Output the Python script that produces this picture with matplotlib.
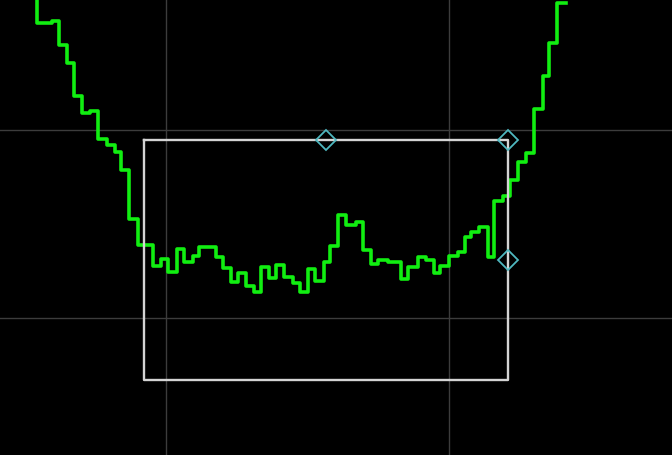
import matplotlib
matplotlib.use("Agg")
import matplotlib.pyplot as plt

# step trace, screen-like units (x right, y down), each level holds until next x
trace_x = [36, 36, 51, 58, 66, 73, 81, 89, 97, 106, 114, 120, 128, 137, 152,
           160, 167, 176, 183, 192, 198, 215, 222, 230, 237, 245, 253, 260,
           268, 275, 283, 292, 299, 307, 314, 323, 329, 337, 345, 355, 362,
           370, 377, 387, 400, 407, 417, 425, 433, 439, 448, 457, 464, 470,
           478, 487, 493, 502, 509, 517, 525, 533, 542, 548, 556, 565]
trace_y = [-5, 23, 21, 45, 63, 96, 113, 111, 139, 145, 152, 170, 219, 245, 266,
           259, 272, 249, 262, 256, 247, 257, 268, 282, 273, 286, 292, 267,
           278, 265, 277, 283, 292, 269, 281, 262, 246, 215, 225, 222, 250,
           264, 260, 262, 279, 267, 257, 260, 273, 266, 256, 252, 237, 232,
           227, 257, 201, 196, 180, 162, 153, 109, 76, 43, 3, 3]

# selection box and its handles
box_x0, box_y0, box_x1, box_y1 = 143, 140, 507, 380
handle_x = [325, 507, 507]
handle_y = [140, 140, 260]

grid_x = [165, 448]
grid_y = [130, 318]

fig = plt.figure(figsize=(6.72, 4.56), dpi=100)
fig.patch.set_facecolor("black")
ax = fig.add_axes([0, 0, 1, 1])
ax.set_facecolor("black")

# half-pixel shift so lines sit on pixel centres
ax.set_xlim(-0.5, 671.5)
ax.set_ylim(455.5, -0.5)

for s in ax.spines.values():
    s.set_visible(False)

ax.set_xticks(grid_x)
ax.set_yticks(grid_y)
ax.tick_params(length=0, labelbottom=False, labelleft=False)
ax.grid(True, color="#3c3c3c", lw=1.0)

ax.plot(trace_x, trace_y, drawstyle="steps-post",
        color="#11ee11", lw=2.6, zorder=3)

ax.plot([box_x0, box_x1, box_x1, box_x0, box_x0],
        [box_y0, box_y0, box_y1, box_y1, box_y0],
        color="#d4d4d4", lw=1.7, zorder=4)

ax.plot(handle_x, handle_y, ls="none", marker="D", ms=10,
        mfc="none", mec="#4fb8c0", mew=1.3, zorder=5)

fig.savefig("out.png", dpi=100, facecolor="black")
